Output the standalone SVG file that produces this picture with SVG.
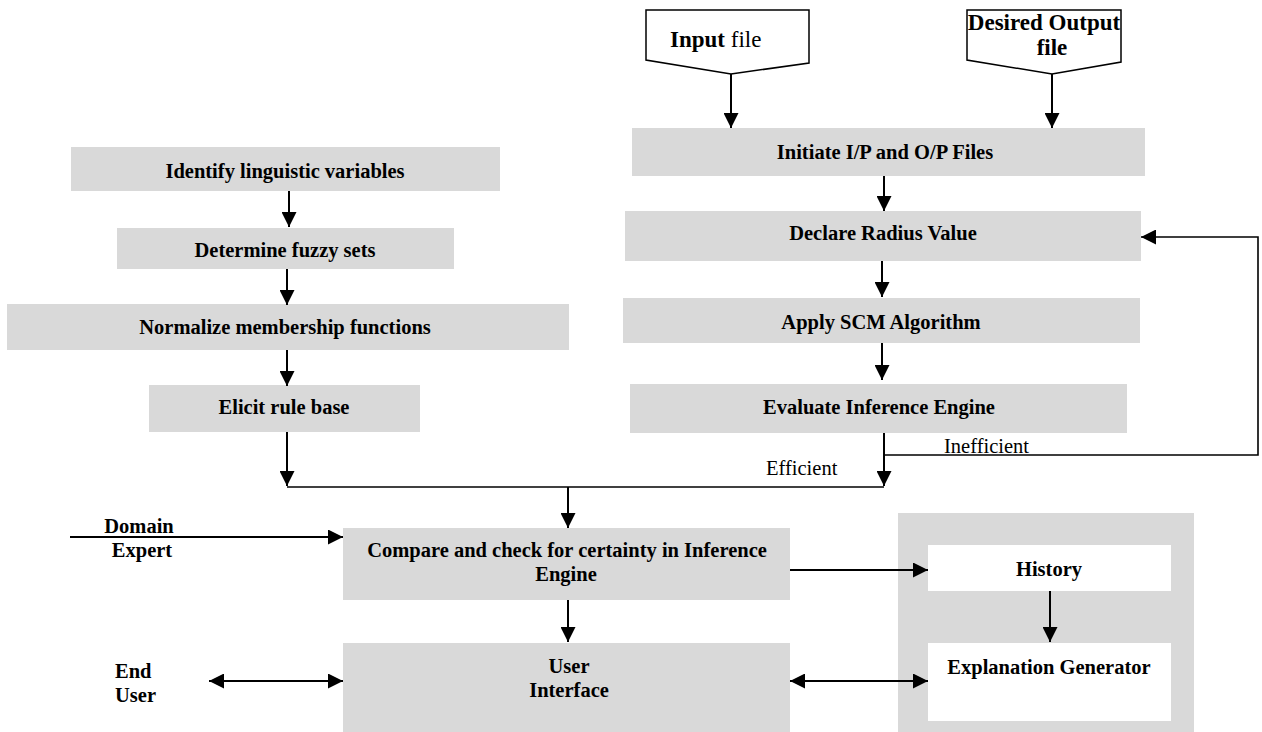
<svg xmlns="http://www.w3.org/2000/svg" width="1262" height="732" viewBox="0 0 1262 732">
<style>
.box{fill:#d9d9d9;stroke:none}
.wbox{fill:#ffffff;stroke:none}
.pent{fill:#ffffff;stroke:#000;stroke-width:1.5}
.t{font-family:"Liberation Serif","Times New Roman",serif;font-size:20.5px;font-weight:bold;fill:#000;text-anchor:middle}
.tl{font-family:"Liberation Serif","Times New Roman",serif;font-size:20.5px;font-weight:bold;fill:#000}
.tb{font-family:"Liberation Serif","Times New Roman",serif;font-size:23px;font-weight:bold;fill:#000}
.r{font-family:"Liberation Serif","Times New Roman",serif;font-size:20.5px;font-weight:normal;fill:#000}
.c{fill:none;stroke:#000;stroke-width:2}
.c1{fill:none;stroke:#000;stroke-width:1.6}
</style>
<defs>
<marker id="ah" markerUnits="userSpaceOnUse" markerWidth="15" markerHeight="15" refX="15" refY="7.5" orient="auto-start-reverse" viewBox="0 0 15 15">
<path d="M0,0 L15,7.5 L0,15 z" fill="#000"/>
</marker>
</defs>

<g id="input-file">
<polygon class="pent" points="646,10 809,10 809,63 731,74 646,60"/>
<text class="tb" x="670" y="47" font-size="24"><tspan font-weight="bold">Input</tspan><tspan font-weight="normal"> file</tspan></text>
</g>
<g id="desired-output">
<polygon class="pent" points="967,10 1121,10 1121,62 1052,74 967,60"/>
<text class="tb" x="1044" y="30" text-anchor="middle">Desired Output</text>
<text class="tb" x="1052" y="55" text-anchor="middle">file</text>
</g>

<g id="initiate">
<rect class="box" x="632" y="128" width="513" height="48"/>
<text class="t" x="885" y="159">Initiate I/P and O/P Files</text>
</g>
<g id="declare">
<rect class="box" x="625" y="211" width="516" height="50"/>
<text class="t" x="883" y="240">Declare Radius Value</text>
</g>
<g id="apply">
<rect class="box" x="623" y="298" width="517" height="45"/>
<text class="t" x="881" y="329">Apply SCM Algorithm</text>
</g>
<g id="evaluate">
<rect class="box" x="630" y="384" width="497" height="49"/>
<text class="t" x="879" y="414">Evaluate Inference Engine</text>
</g>

<g id="identify">
<rect class="box" x="71" y="147" width="429" height="44"/>
<text class="t" x="285" y="178">Identify linguistic variables</text>
</g>
<g id="determine">
<rect class="box" x="117" y="228" width="337" height="41"/>
<text class="t" x="285" y="257">Determine fuzzy sets</text>
</g>
<g id="normalize">
<rect class="box" x="7" y="304" width="562" height="46"/>
<text class="t" x="285" y="334">Normalize membership functions</text>
</g>
<g id="elicit">
<rect class="box" x="149" y="385" width="271" height="47"/>
<text class="t" x="284" y="414">Elicit rule base</text>
</g>

<g id="compare">
<rect class="box" x="343" y="528" width="447" height="72"/>
<text class="t" x="567" y="557">Compare and check for certainty in Inference</text>
<text class="t" x="566" y="581">Engine</text>
</g>
<g id="user-interface">
<rect class="box" x="343" y="643" width="447" height="89"/>
<text class="t" x="569" y="673">User</text>
<text class="t" x="569" y="697">Interface</text>
</g>
<g id="explanation-module">
<rect class="box" x="898" y="513" width="296" height="219"/>
</g>
<g id="history">
<rect class="wbox" x="928" y="545" width="243" height="46"/>
<text class="t" x="1049" y="576">History</text>
</g>
<g id="explanation-generator">
<rect class="wbox" x="928" y="643" width="243" height="78"/>
<text class="t" x="1049" y="674">Explanation Generator</text>
</g>

<g id="domain-expert">
<text class="t" x="139" y="533">Domain</text>
<text class="t" x="142" y="557">Expert</text>
</g>
<g id="end-user">
<text class="tl" x="115" y="678">End</text>
<text class="tl" x="115" y="702">User</text>
</g>

<g id="connectors">
<line class="c" x1="731" y1="74" x2="731" y2="128" marker-end="url(#ah)"/>
<line class="c" x1="1052" y1="74" x2="1052" y2="128" marker-end="url(#ah)"/>
<line class="c" x1="884" y1="176" x2="884" y2="211" marker-end="url(#ah)"/>
<line class="c" x1="882" y1="261" x2="882" y2="297" marker-end="url(#ah)"/>
<line class="c" x1="882" y1="343" x2="882" y2="380" marker-end="url(#ah)"/>
<line class="c" x1="884" y1="433" x2="884" y2="486" marker-end="url(#ah)"/>
<polyline class="c1" points="884,455 1258,455 1258,237 1141,237" marker-end="url(#ah)"/>
<text class="r" x="944" y="453">Inefficient</text>
<text class="r" x="766" y="475">Efficient</text>

<line class="c" x1="289" y1="191" x2="289" y2="227" marker-end="url(#ah)"/>
<line class="c" x1="287" y1="269" x2="287" y2="305" marker-end="url(#ah)"/>
<line class="c" x1="287" y1="350" x2="287" y2="386" marker-end="url(#ah)"/>
<line class="c" x1="287" y1="432" x2="287" y2="486" marker-end="url(#ah)"/>
<line class="c1" x1="287" y1="487" x2="884" y2="487"/>
<line class="c" x1="568" y1="487" x2="568" y2="528" marker-end="url(#ah)"/>

<line class="c" x1="70" y1="537" x2="343" y2="537" marker-end="url(#ah)"/>
<line class="c" x1="568" y1="600" x2="568" y2="642" marker-end="url(#ah)"/>
<line class="c" x1="209" y1="681" x2="343" y2="681" marker-start="url(#ah)" marker-end="url(#ah)"/>
<line class="c" x1="790" y1="570" x2="928" y2="570" marker-end="url(#ah)"/>
<line class="c" x1="790" y1="681" x2="928" y2="681" marker-start="url(#ah)" marker-end="url(#ah)"/>
<line class="c" x1="1050" y1="591" x2="1050" y2="642" marker-end="url(#ah)"/>
</g>
</svg>
